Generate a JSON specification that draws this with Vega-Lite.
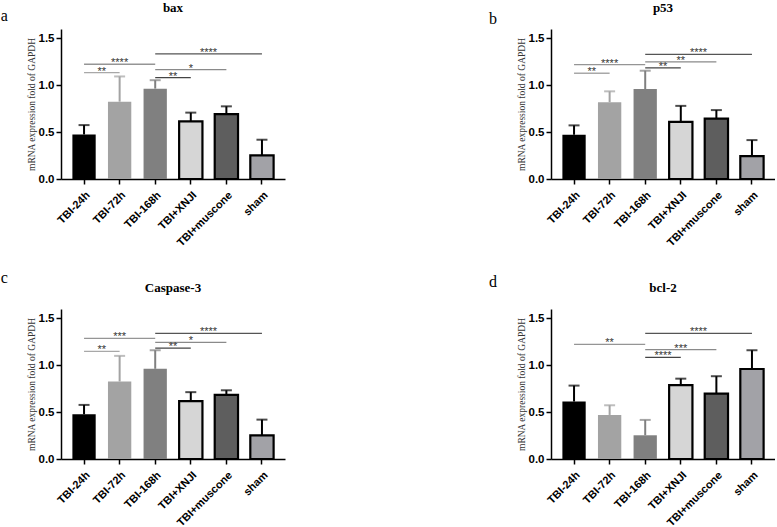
{
"$schema":"https://vega.github.io/schema/vega-lite/v6.json",
"padding":{"top":2,"left":0,"right":0,"bottom":0},
"background":"white",
"datasets":{
"bax":[{"cat":"TBI-24h","mean":0.475,"hi":0.575},{"cat":"TBI-72h","mean":0.825,"hi":1.094},{"cat":"TBI-168h","mean":0.964,"hi":1.054},{"cat":"TBI+XNJI","mean":0.615,"hi":0.708},{"cat":"TBI+muscone","mean":0.692,"hi":0.775},{"cat":"sham","mean":0.253,"hi":0.419}],
"bax_sig":[{"from":"TBI-24h","to":"TBI-72h","y":1.134,"label":"**","mid":"TBI-24h","kind":"b"},{"from":"TBI-24h","to":"TBI-168h","y":1.224,"label":"****","mid":"TBI-72h","kind":"c"},{"from":"TBI-168h","to":"TBI+XNJI","y":1.081,"label":"**","mid":"TBI-168h","kind":"b"},{"from":"TBI-168h","to":"TBI+muscone","y":1.167,"label":"*","mid":"TBI+XNJI","kind":"c"},{"from":"TBI-168h","to":"sham","y":1.334,"label":"****","mid":"TBI+XNJI","kind":"b"}],
"p53":[{"cat":"TBI-24h","mean":0.472,"hi":0.572},{"cat":"TBI-72h","mean":0.82,"hi":0.935},{"cat":"TBI-168h","mean":0.96,"hi":1.155},{"cat":"TBI+XNJI","mean":0.61,"hi":0.78},{"cat":"TBI+muscone","mean":0.645,"hi":0.735},{"cat":"sham","mean":0.245,"hi":0.415}],
"p53_sig":[{"from":"TBI-24h","to":"TBI-72h","y":1.128,"label":"**","mid":"TBI-24h","kind":"b"},{"from":"TBI-24h","to":"TBI-168h","y":1.22,"label":"****","mid":"TBI-72h","kind":"c"},{"from":"TBI-168h","to":"TBI+XNJI","y":1.185,"label":"**","mid":"TBI-168h","kind":"b"},{"from":"TBI-168h","to":"TBI+muscone","y":1.25,"label":"**","mid":"TBI+XNJI","kind":"c"},{"from":"TBI-168h","to":"sham","y":1.33,"label":"****","mid":"TBI+XNJI","kind":"b"}],
"casp":[{"cat":"TBI-24h","mean":0.477,"hi":0.577},{"cat":"TBI-72h","mean":0.827,"hi":1.1},{"cat":"TBI-168h","mean":0.962,"hi":1.16},{"cat":"TBI+XNJI","mean":0.617,"hi":0.713},{"cat":"TBI+muscone","mean":0.683,"hi":0.733},{"cat":"sham","mean":0.253,"hi":0.42}],
"casp_sig":[{"from":"TBI-24h","to":"TBI-72h","y":1.147,"label":"**","mid":"TBI-24h","kind":"b"},{"from":"TBI-24h","to":"TBI-168h","y":1.287,"label":"***","mid":"TBI-72h","kind":"c"},{"from":"TBI-168h","to":"TBI+XNJI","y":1.183,"label":"**","mid":"TBI-168h","kind":"b"},{"from":"TBI-168h","to":"TBI+muscone","y":1.243,"label":"*","mid":"TBI+XNJI","kind":"c"},{"from":"TBI-168h","to":"sham","y":1.34,"label":"****","mid":"TBI+XNJI","kind":"b"}],
"bcl2":[{"cat":"TBI-24h","mean":0.613,"hi":0.783},{"cat":"TBI-72h","mean":0.47,"hi":0.573},{"cat":"TBI-168h","mean":0.253,"hi":0.417},{"cat":"TBI+XNJI","mean":0.787,"hi":0.857},{"cat":"TBI+muscone","mean":0.697,"hi":0.883},{"cat":"sham","mean":0.96,"hi":1.16}],
"bcl2_sig":[{"from":"TBI-24h","to":"TBI-168h","y":1.223,"label":"**","mid":"TBI-72h","kind":"c"},{"from":"TBI-168h","to":"TBI+XNJI","y":1.083,"label":"****","mid":"TBI-168h","kind":"b"},{"from":"TBI-168h","to":"TBI+muscone","y":1.167,"label":"***","mid":"TBI+XNJI","kind":"c"},{"from":"TBI-168h","to":"sham","y":1.34,"label":"****","mid":"TBI+XNJI","kind":"b"}]
},
"config":{
"view":{"stroke":null},
"font":"Liberation Sans",
"axis":{"domainColor":"#000","domainWidth":1.5,"tickColor":"#000","tickWidth":1.5,"tickSize":5,"labelColor":"#000","labelFont":"Liberation Sans","labelFontWeight":"bold","grid":false},
"axisX":{"labelAngle":-45,"labelFontSize":11,"labelPadding":5},
"axisY":{"labelFontSize":11.5,"values":[0,0.5,1,1.5],"format":".1f","labelPadding":2,"titleFont":"Liberation Serif","titleFontWeight":"normal","titleFontSize":9.5,"titleColor":"#333","titlePadding":2},
"title":{"font":"Liberation Serif","fontSize":13,"fontWeight":"bold","color":"#000","anchor":"middle","frame":"group","offset":14}
},
"spacing":22,
"vconcat":[
{"hconcat":[
{"title":{"text":"a","orient":"left","anchor":"end","angle":0,"align":"right","baseline":"alphabetic","font":"Liberation Serif","fontSize":16,"fontWeight":"normal","color":"#000","offset":11,"dy":-8},
 "vconcat":[{"title":{"text":"bax"},"width":224,"height":150,"data":{"name":"bax"},
 "layer":[
  {"mark":{"type":"bar"},"encoding":{"x":{"field":"cat","type":"nominal","scale":{"domain":["TBI-24h","TBI-72h","TBI-168h","TBI+XNJI","TBI+muscone","sham"],"paddingInner":0.345,"paddingOuter":0.32},"axis":{"title":null}},"y":{"field":"mean","type":"quantitative","scale":{"domain":[0,1.5]},"axis":{"title":"mRNA expression fold of GAPDH"}},"fill":{"field":"cat","type":"nominal","scale":{"domain":["TBI-24h","TBI-72h","TBI-168h","TBI+XNJI","TBI+muscone","sham"],"range":["#000000","#a3a3a3","#808080","#d6d6d6","#5e5e5e","#a2a2a7"]},"legend":null}}},
  {"transform":[{"filter":{"field":"cat","oneOf":["TBI+XNJI","TBI+muscone","sham"]}}],"mark":{"type":"bar","stroke":"#000","strokeWidth":2.2},"encoding":{"x":{"field":"cat","type":"nominal"},"y":{"field":"mean","type":"quantitative"},"fill":{"field":"cat","type":"nominal","legend":null}}},
  {"mark":{"type":"rule","strokeWidth":2},"encoding":{"x":{"field":"cat","type":"nominal"},"y":{"field":"mean","type":"quantitative"},"y2":{"field":"hi"},"color":{"field":"cat","type":"nominal","scale":{"domain":["TBI-24h","TBI-72h","TBI-168h","TBI+XNJI","TBI+muscone","sham"],"range":["#000000","#a3a3a3","#808080","#000000","#000000","#000000"]},"legend":null}}},
  {"mark":{"type":"tick","thickness":2,"size":11},"encoding":{"x":{"field":"cat","type":"nominal"},"y":{"field":"hi","type":"quantitative"},"color":{"field":"cat","type":"nominal","legend":null}}},
  {"data":{"name":"bax_sig"},"mark":{"type":"rule","strokeWidth":1.3},"encoding":{"x":{"field":"from","type":"nominal"},"x2":{"field":"to"},"y":{"field":"y","type":"quantitative"},"stroke":{"field":"to","type":"nominal","scale":{"domain":["TBI-72h","TBI-168h","TBI+XNJI","TBI+muscone","sham"],"range":["#a8a8a8","#959595","#444444","#8a8a8a","#555555"]},"legend":null}}},
  {"data":{"name":"bax_sig"},"transform":[{"filter":{"field":"kind","equal":"c"}}],"mark":{"type":"text","font":"Liberation Sans","fontSize":11,"color":"#333","baseline":"alphabetic","dy":2},"encoding":{"x":{"field":"mid","type":"nominal","bandPosition":0.5},"y":{"field":"y","type":"quantitative"},"text":{"field":"label"}}},
  {"data":{"name":"bax_sig"},"transform":[{"filter":{"field":"kind","equal":"b"}}],"mark":{"type":"text","font":"Liberation Sans","fontSize":11,"color":"#333","baseline":"alphabetic","dy":2},"encoding":{"x":{"field":"mid","type":"nominal","bandPosition":1.263},"y":{"field":"y","type":"quantitative"},"text":{"field":"label"}}}
 ]}]},
{"title":{"text":"b","orient":"left","anchor":"end","angle":0,"align":"right","baseline":"alphabetic","font":"Liberation Serif","fontSize":16,"fontWeight":"normal","color":"#000","offset":11,"dy":-5},
 "vconcat":[{"title":{"text":"p53"},"width":224,"height":150,"data":{"name":"p53"},
 "layer":[
  {"mark":{"type":"bar"},"encoding":{"x":{"field":"cat","type":"nominal","scale":{"domain":["TBI-24h","TBI-72h","TBI-168h","TBI+XNJI","TBI+muscone","sham"],"paddingInner":0.345,"paddingOuter":0.32},"axis":{"title":null}},"y":{"field":"mean","type":"quantitative","scale":{"domain":[0,1.5]},"axis":{"title":"mRNA expression fold of GAPDH"}},"fill":{"field":"cat","type":"nominal","scale":{"domain":["TBI-24h","TBI-72h","TBI-168h","TBI+XNJI","TBI+muscone","sham"],"range":["#000000","#a3a3a3","#808080","#d6d6d6","#5e5e5e","#a2a2a7"]},"legend":null}}},
  {"transform":[{"filter":{"field":"cat","oneOf":["TBI+XNJI","TBI+muscone","sham"]}}],"mark":{"type":"bar","stroke":"#000","strokeWidth":2.2},"encoding":{"x":{"field":"cat","type":"nominal"},"y":{"field":"mean","type":"quantitative"},"fill":{"field":"cat","type":"nominal","legend":null}}},
  {"mark":{"type":"rule","strokeWidth":2},"encoding":{"x":{"field":"cat","type":"nominal"},"y":{"field":"mean","type":"quantitative"},"y2":{"field":"hi"},"color":{"field":"cat","type":"nominal","scale":{"domain":["TBI-24h","TBI-72h","TBI-168h","TBI+XNJI","TBI+muscone","sham"],"range":["#000000","#a3a3a3","#808080","#000000","#000000","#000000"]},"legend":null}}},
  {"mark":{"type":"tick","thickness":2,"size":11},"encoding":{"x":{"field":"cat","type":"nominal"},"y":{"field":"hi","type":"quantitative"},"color":{"field":"cat","type":"nominal","legend":null}}},
  {"data":{"name":"p53_sig"},"mark":{"type":"rule","strokeWidth":1.3},"encoding":{"x":{"field":"from","type":"nominal"},"x2":{"field":"to"},"y":{"field":"y","type":"quantitative"},"stroke":{"field":"to","type":"nominal","scale":{"domain":["TBI-72h","TBI-168h","TBI+XNJI","TBI+muscone","sham"],"range":["#a8a8a8","#959595","#444444","#8a8a8a","#555555"]},"legend":null}}},
  {"data":{"name":"p53_sig"},"transform":[{"filter":{"field":"kind","equal":"c"}}],"mark":{"type":"text","font":"Liberation Sans","fontSize":11,"color":"#333","baseline":"alphabetic","dy":2},"encoding":{"x":{"field":"mid","type":"nominal","bandPosition":0.5},"y":{"field":"y","type":"quantitative"},"text":{"field":"label"}}},
  {"data":{"name":"p53_sig"},"transform":[{"filter":{"field":"kind","equal":"b"}}],"mark":{"type":"text","font":"Liberation Sans","fontSize":11,"color":"#333","baseline":"alphabetic","dy":2},"encoding":{"x":{"field":"mid","type":"nominal","bandPosition":1.263},"y":{"field":"y","type":"quantitative"},"text":{"field":"label"}}}
 ]}]}
],"spacing":204},
{"hconcat":[
{"title":{"text":"c","orient":"left","anchor":"end","angle":0,"align":"right","baseline":"alphabetic","font":"Liberation Serif","fontSize":16,"fontWeight":"normal","color":"#000","offset":11,"dy":-26},
 "vconcat":[{"title":{"text":"Caspase-3"},"width":224,"height":150,"data":{"name":"casp"},
 "layer":[
  {"mark":{"type":"bar"},"encoding":{"x":{"field":"cat","type":"nominal","scale":{"domain":["TBI-24h","TBI-72h","TBI-168h","TBI+XNJI","TBI+muscone","sham"],"paddingInner":0.345,"paddingOuter":0.32},"axis":{"title":null}},"y":{"field":"mean","type":"quantitative","scale":{"domain":[0,1.5]},"axis":{"title":"mRNA expression fold of GAPDH"}},"fill":{"field":"cat","type":"nominal","scale":{"domain":["TBI-24h","TBI-72h","TBI-168h","TBI+XNJI","TBI+muscone","sham"],"range":["#000000","#a3a3a3","#808080","#d6d6d6","#5e5e5e","#a2a2a7"]},"legend":null}}},
  {"transform":[{"filter":{"field":"cat","oneOf":["TBI+XNJI","TBI+muscone","sham"]}}],"mark":{"type":"bar","stroke":"#000","strokeWidth":2.2},"encoding":{"x":{"field":"cat","type":"nominal"},"y":{"field":"mean","type":"quantitative"},"fill":{"field":"cat","type":"nominal","legend":null}}},
  {"mark":{"type":"rule","strokeWidth":2},"encoding":{"x":{"field":"cat","type":"nominal"},"y":{"field":"mean","type":"quantitative"},"y2":{"field":"hi"},"color":{"field":"cat","type":"nominal","scale":{"domain":["TBI-24h","TBI-72h","TBI-168h","TBI+XNJI","TBI+muscone","sham"],"range":["#000000","#a3a3a3","#808080","#000000","#000000","#000000"]},"legend":null}}},
  {"mark":{"type":"tick","thickness":2,"size":11},"encoding":{"x":{"field":"cat","type":"nominal"},"y":{"field":"hi","type":"quantitative"},"color":{"field":"cat","type":"nominal","legend":null}}},
  {"data":{"name":"casp_sig"},"mark":{"type":"rule","strokeWidth":1.3},"encoding":{"x":{"field":"from","type":"nominal"},"x2":{"field":"to"},"y":{"field":"y","type":"quantitative"},"stroke":{"field":"to","type":"nominal","scale":{"domain":["TBI-72h","TBI-168h","TBI+XNJI","TBI+muscone","sham"],"range":["#a8a8a8","#959595","#444444","#8a8a8a","#555555"]},"legend":null}}},
  {"data":{"name":"casp_sig"},"transform":[{"filter":{"field":"kind","equal":"c"}}],"mark":{"type":"text","font":"Liberation Sans","fontSize":11,"color":"#333","baseline":"alphabetic","dy":2},"encoding":{"x":{"field":"mid","type":"nominal","bandPosition":0.5},"y":{"field":"y","type":"quantitative"},"text":{"field":"label"}}},
  {"data":{"name":"casp_sig"},"transform":[{"filter":{"field":"kind","equal":"b"}}],"mark":{"type":"text","font":"Liberation Sans","fontSize":11,"color":"#333","baseline":"alphabetic","dy":2},"encoding":{"x":{"field":"mid","type":"nominal","bandPosition":1.263},"y":{"field":"y","type":"quantitative"},"text":{"field":"label"}}}
 ]}]},
{"title":{"text":"d","orient":"left","anchor":"end","angle":0,"align":"right","baseline":"alphabetic","font":"Liberation Serif","fontSize":16,"fontWeight":"normal","color":"#000","offset":11,"dy":-22},
 "vconcat":[{"title":{"text":"bcl-2"},"width":224,"height":150,"data":{"name":"bcl2"},
 "layer":[
  {"mark":{"type":"bar"},"encoding":{"x":{"field":"cat","type":"nominal","scale":{"domain":["TBI-24h","TBI-72h","TBI-168h","TBI+XNJI","TBI+muscone","sham"],"paddingInner":0.345,"paddingOuter":0.32},"axis":{"title":null}},"y":{"field":"mean","type":"quantitative","scale":{"domain":[0,1.5]},"axis":{"title":"mRNA expression fold of GAPDH"}},"fill":{"field":"cat","type":"nominal","scale":{"domain":["TBI-24h","TBI-72h","TBI-168h","TBI+XNJI","TBI+muscone","sham"],"range":["#000000","#a3a3a3","#808080","#d6d6d6","#5e5e5e","#a2a2a7"]},"legend":null}}},
  {"transform":[{"filter":{"field":"cat","oneOf":["TBI+XNJI","TBI+muscone","sham"]}}],"mark":{"type":"bar","stroke":"#000","strokeWidth":2.2},"encoding":{"x":{"field":"cat","type":"nominal"},"y":{"field":"mean","type":"quantitative"},"fill":{"field":"cat","type":"nominal","legend":null}}},
  {"mark":{"type":"rule","strokeWidth":2},"encoding":{"x":{"field":"cat","type":"nominal"},"y":{"field":"mean","type":"quantitative"},"y2":{"field":"hi"},"color":{"field":"cat","type":"nominal","scale":{"domain":["TBI-24h","TBI-72h","TBI-168h","TBI+XNJI","TBI+muscone","sham"],"range":["#000000","#a3a3a3","#808080","#000000","#000000","#000000"]},"legend":null}}},
  {"mark":{"type":"tick","thickness":2,"size":11},"encoding":{"x":{"field":"cat","type":"nominal"},"y":{"field":"hi","type":"quantitative"},"color":{"field":"cat","type":"nominal","legend":null}}},
  {"data":{"name":"bcl2_sig"},"mark":{"type":"rule","strokeWidth":1.3},"encoding":{"x":{"field":"from","type":"nominal"},"x2":{"field":"to"},"y":{"field":"y","type":"quantitative"},"stroke":{"field":"to","type":"nominal","scale":{"domain":["TBI-72h","TBI-168h","TBI+XNJI","TBI+muscone","sham"],"range":["#a8a8a8","#959595","#444444","#8a8a8a","#555555"]},"legend":null}}},
  {"data":{"name":"bcl2_sig"},"transform":[{"filter":{"field":"kind","equal":"c"}}],"mark":{"type":"text","font":"Liberation Sans","fontSize":11,"color":"#333","baseline":"alphabetic","dy":2},"encoding":{"x":{"field":"mid","type":"nominal","bandPosition":0.5},"y":{"field":"y","type":"quantitative"},"text":{"field":"label"}}},
  {"data":{"name":"bcl2_sig"},"transform":[{"filter":{"field":"kind","equal":"b"}}],"mark":{"type":"text","font":"Liberation Sans","fontSize":11,"color":"#333","baseline":"alphabetic","dy":2},"encoding":{"x":{"field":"mid","type":"nominal","bandPosition":1.263},"y":{"field":"y","type":"quantitative"},"text":{"field":"label"}}}
 ]}]}
],"spacing":204}
]
}
